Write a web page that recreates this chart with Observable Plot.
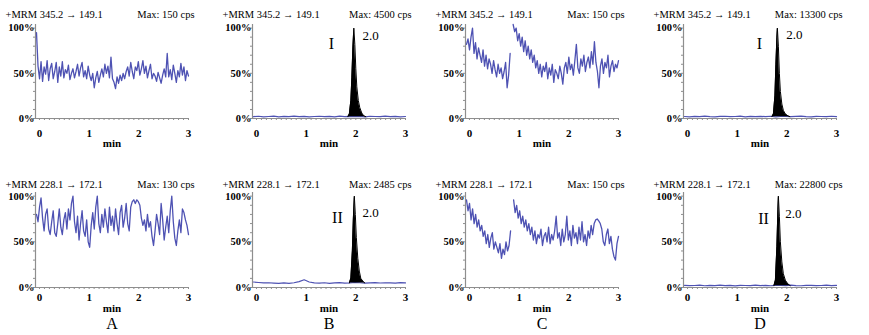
<!DOCTYPE html>
<html><head><meta charset="utf-8">
<script src="https://cdn.jsdelivr.net/npm/d3@7"></script>
<script src="https://cdn.jsdelivr.net/npm/@observablehq/plot@0.6"></script>
<style>
body{margin:0;background:#fff;}
#wrap{position:relative;width:869px;height:335px;overflow:hidden;background:#fff;}
.panel{position:absolute;}
</style></head><body><div id="wrap"></div>
<script>
// ---- text ----
const panelLetters = ["A", "B", "C", "D"];
const transitions = ["+MRM 345.2 \u2192 149.1", "+MRM 228.1 \u2192 172.1"];
const maxRow1 = ["Max: 150 cps", "Max: 4500 cps", "Max: 150 cps", "Max: 13300 cps"];
const maxRow2 = ["Max: 130 cps", "Max: 2485 cps", "Max: 150 cps", "Max: 22800 cps"];
const peakNames = ["I", "II"];
const peakRT = "2.0";
const xTickValues = [0, 1, 2, 3];
const yTickValues = [0, 50, 100];

// ---- noisy traces (% of max), sampled evenly from T0 to T1 min ----
const T0 = -0.06, T1 = 3.0;
const traceA1 = [95,58,44,63,41,57,49,64,42,55, 61,44,52,62,40,57,47,63,45,54, 50,59,43,50,55,45,52,60,47,56,
  62,46,53,44,58,48,42,50,34,45, 52,40,48,55,46,60,50,58,45,68, 44,40,33,46,39,48,42,50,44,52,
  57,47,62,52,44,57,53,63,48,55, 64,50,58,45,53,60,44,50,47,41, 51,45,39,48,55,46,72,46,54,43,
  59,50,40,53,46,61,48,57,42,53, 47];
const traceC1 = [82,88,76,90,100,72,84,66,78,70, 62,76,58,70,55,66,60,50,64,54, 46,60,50,56,44,52,62,34,48,72,
  null, 104,96,100,86,94,80,90,74,86,70, 80,66,76,62,70,56,64,50,60,46, 58,52,62,44,56,48,60,40,54,50,
  44,58,50,38,56,62,50,68,54,60, 48,64,82,56,50,66,58,70,52,62, 68,56,74,60,85,62,52,34,58,66,
  50,62,56,70,46,58,64,52,60,56, 64];
const traceA2 = [80,72,88,98,76,62,80,86,64,58, 72,84,60,56,70,86,66,58,74,82, 64,86,74,92,100,72,60,78,52,70,
  84,62,56,74,50,44,68,82,64,88, 100,70,60,80,66,86,72,60,88,68, 78,62,86,70,58,82,90,66,76,92,
  70,62,88,94,96,92,96,94,90,76, 68,74,62,80,66,72,56,46,62,80, 70,58,92,74,52,66,78,60,84,100,
  72,54,46,62,74,60,86,82,74,68, 58];
const traceC2 = [96,84,92,74,86,70,80,66,74,62, 68,56,62,48,58,44,54,60,42,50, 44,38,48,32,42,36,50,40,46,62,
  null, 96,82,90,76,84,70,78,66,74, 62,70,58,66,52,62,48,58,54,64, 46,56,60,50,66,48,58,52,62,78,
  54,60,46,64,50,58,78,52,62,46, 68,54,60,48,66,52,72,50,58,46, 62,54,68,58,70,74,75,73,70,64,
  50,46,58,64,48,56,42,34,30,48, 56];

// ---- baselines (% of max) for the standard runs ----
const baseB1 = [2,2.5,1.8,2.2,2.6,1.9,2.3,2.1,2.7,2,2.4,1.8,2.2,2.5,2,2.3,1.9,2.6,2.1,2.4,2,2.3,1.8,2.5,2.2,2,2.6,2.1,2.3,1.9,2.2];
const baseD1 = [2.2,1.9,2.4,2,2.6,2.1,1.8,2.3,2.5,2,2.2,2.6,1.9,2.3,2.1,2.4,2,2.5,1.8,2.2,2.4,2,2.3,2.6,2.1,1.9,2.4,2.2,2,2.5,2.1];
const baseB2 = [6,5.5,5,5.2,4.8,4.5,5,4.6,5.2,6.5,8.5,6,5,4.8,5.2,4.6,5,5.4,4.8,5,5.5,5.2,4.8,5,5.3,4.9,5.2,5,4.8,5.3,5];
const baseD2 = [2.4,2,2.2,2.6,1.9,2.3,2.1,2.5,2,2.3,1.8,2.4,2.2,2,2.6,2.1,2.3,1.9,2.4,2.2,2,2.5,2.1,1.9,2.3,2.4,2,2.2,2.6,2.1,2.3];

// ---- peaks ----
const peakB1T = [1.84,1.87,1.9,1.92,1.94,1.96,1.98,2.0,2.02,2.05,2.08,2.12,2.16,2.2];
const peakB1V = [2,5,20,45,78,100,82,55,35,20,12,6,3,2];
const peakD1T = [1.7,1.73,1.76,1.78,1.8,1.81,1.83,1.85,1.87,1.9,1.93,1.97,2.02,2.06];
const peakD1V = [2,5,25,60,90,100,80,50,30,16,9,5,3,2];
const peakB2T = [1.87,1.9,1.93,1.95,1.97,1.99,2.01,2.04,2.07,2.1,2.14,2.18];
const peakB2V = [5,10,40,75,100,80,55,32,18,10,7,5];
const peakD2T = [1.74,1.77,1.8,1.82,1.83,1.85,1.87,1.9,1.93,1.97,2.02,2.07];
const peakD2V = [2,8,45,85,100,78,50,28,15,8,4,2];
const peakBaseLevel = {B1: 2, D1: 2, B2: 5, D2: 2};

// ---- styling / layout ----
const traceColor = "#4e52b3";
const axisGray = "#8e8e8e";
const font = "'Liberation Serif', 'Times New Roman', serif";
const xDomain = [-0.08, 3.0];
const yDomain = [0, 104];
const colLeft = [0, 217, 430, 648];
const rows = [
  {top: 0, height: 150, marginBottom: 32, titleDy: -10, tickPad: 11, minDy: 25},
  {top: 168, height: 167, marginBottom: 48, titleDy: -8, tickPad: 6, minDy: 21, letterDy: 36}
];

function evenSeries(values) {
  return values.map((v, i) => ({t: T0 + i * (T1 - T0) / (values.length - 1), v}));
}
function pairs(ts, vs, base) {
  return ts.map((t, i) => ({t, v: vs[i], b: base}));
}

const panels = [
  {row: 0, col: 0, trace: traceA1},
  {row: 0, col: 1, base: baseB1, peak: pairs(peakB1T, peakB1V, peakBaseLevel.B1), lab: [1.51, 83], rt: [2.3, 92]},
  {row: 0, col: 2, trace: traceC1},
  {row: 0, col: 3, base: baseD1, peak: pairs(peakD1T, peakD1V, peakBaseLevel.D1), lab: [1.45, 83], rt: [2.15, 93]},
  {row: 1, col: 0, trace: traceA2},
  {row: 1, col: 1, base: baseB2, peak: pairs(peakB2T, peakB2V, peakBaseLevel.B2), lab: [1.63, 76], rt: [2.3, 82]},
  {row: 1, col: 2, trace: traceC2},
  {row: 1, col: 3, base: baseD2, peak: pairs(peakD2T, peakD2V, peakBaseLevel.D2), lab: [1.53, 75], rt: [2.13, 81]}
];

const wrap = document.getElementById("wrap");
for (const p of panels) {
  const r = rows[p.row];
  const marks = [
    Plot.ruleY([0], {stroke: axisGray, strokeWidth: 1.2}),
    Plot.ruleX([xDomain[0]], {stroke: axisGray, strokeWidth: 1.2}),
    Plot.axisX({ticks: d3.range(0, 3.001, 0.1), tickSize: 2, tickFormat: () => "", label: null, stroke: axisGray}),
    Plot.axisY({ticks: d3.range(0, 101, 10), tickSize: 2, tickFormat: () => "", label: null, stroke: axisGray}),
    Plot.axisX({ticks: xTickValues, tickSize: 0, tickPadding: r.tickPad, tickFormat: d => String(d), label: null, fontWeight: "bold", fontSize: 11, fill: "black"}),
    Plot.axisY({ticks: yTickValues, tickSize: 0, tickPadding: 1, tickFormat: d => d + "%", label: null, fontWeight: "bold", fontSize: 10.5, fill: "black"})
  ];
  if (p.trace) {
    marks.push(Plot.line(evenSeries(p.trace), {x: "t", y: "v", stroke: traceColor, strokeWidth: 1.3}));
  }
  if (p.base) {
    marks.push(Plot.line(evenSeries(p.base), {x: "t", y: "v", stroke: traceColor, strokeWidth: 1.2}));
    marks.push(Plot.areaY(p.peak, {x: "t", y1: "b", y2: "v", fill: "black"}));
    marks.push(Plot.line(p.peak, {x: "t", y: "v", stroke: "black", strokeWidth: 1}));
    marks.push(Plot.text([peakNames[p.row]], {x: p.lab[0], y: p.lab[1], text: d => d, fontSize: 16, fill: "black"}));
    marks.push(Plot.text([peakRT], {x: p.rt[0], y: p.rt[1], text: d => d, fontSize: 13, fill: "black"}));
  }
  marks.push(Plot.text([transitions[p.row]], {text: d => d, frameAnchor: "top-left", lineAnchor: "middle", dx: -30, dy: r.titleDy, textAnchor: "start", fontSize: 10.5, fill: "black"}));
  marks.push(Plot.text([(p.row === 0 ? maxRow1 : maxRow2)[p.col]], {text: d => d, frameAnchor: "top-right", lineAnchor: "middle", dx: 6, dy: r.titleDy, textAnchor: "end", fontSize: 10.5, fill: "black"}));
  marks.push(Plot.text(["min"], {text: d => d, frameAnchor: "bottom", lineAnchor: "middle", dy: r.minDy, fontSize: 11, fontWeight: "bold", fill: "black"}));
  if (r.letterDy) {
    marks.push(Plot.text([panelLetters[p.col]], {text: d => d, frameAnchor: "bottom", lineAnchor: "middle", dy: r.letterDy, fontSize: 16, fill: "black"}));
  }
  const chart = Plot.plot({
    width: 210, height: r.height,
    marginLeft: 35, marginRight: 22, marginTop: 24, marginBottom: r.marginBottom,
    x: {domain: xDomain, axis: null},
    y: {domain: yDomain, axis: null},
    style: {fontFamily: font, fontSize: "11px", background: "transparent", color: "black", overflow: "visible"},
    marks
  });
  const div = document.createElement("div");
  div.className = "panel";
  div.style.left = colLeft[p.col] + "px";
  div.style.top = r.top + "px";
  div.appendChild(chart);
  wrap.appendChild(div);
}
</script></body></html>
